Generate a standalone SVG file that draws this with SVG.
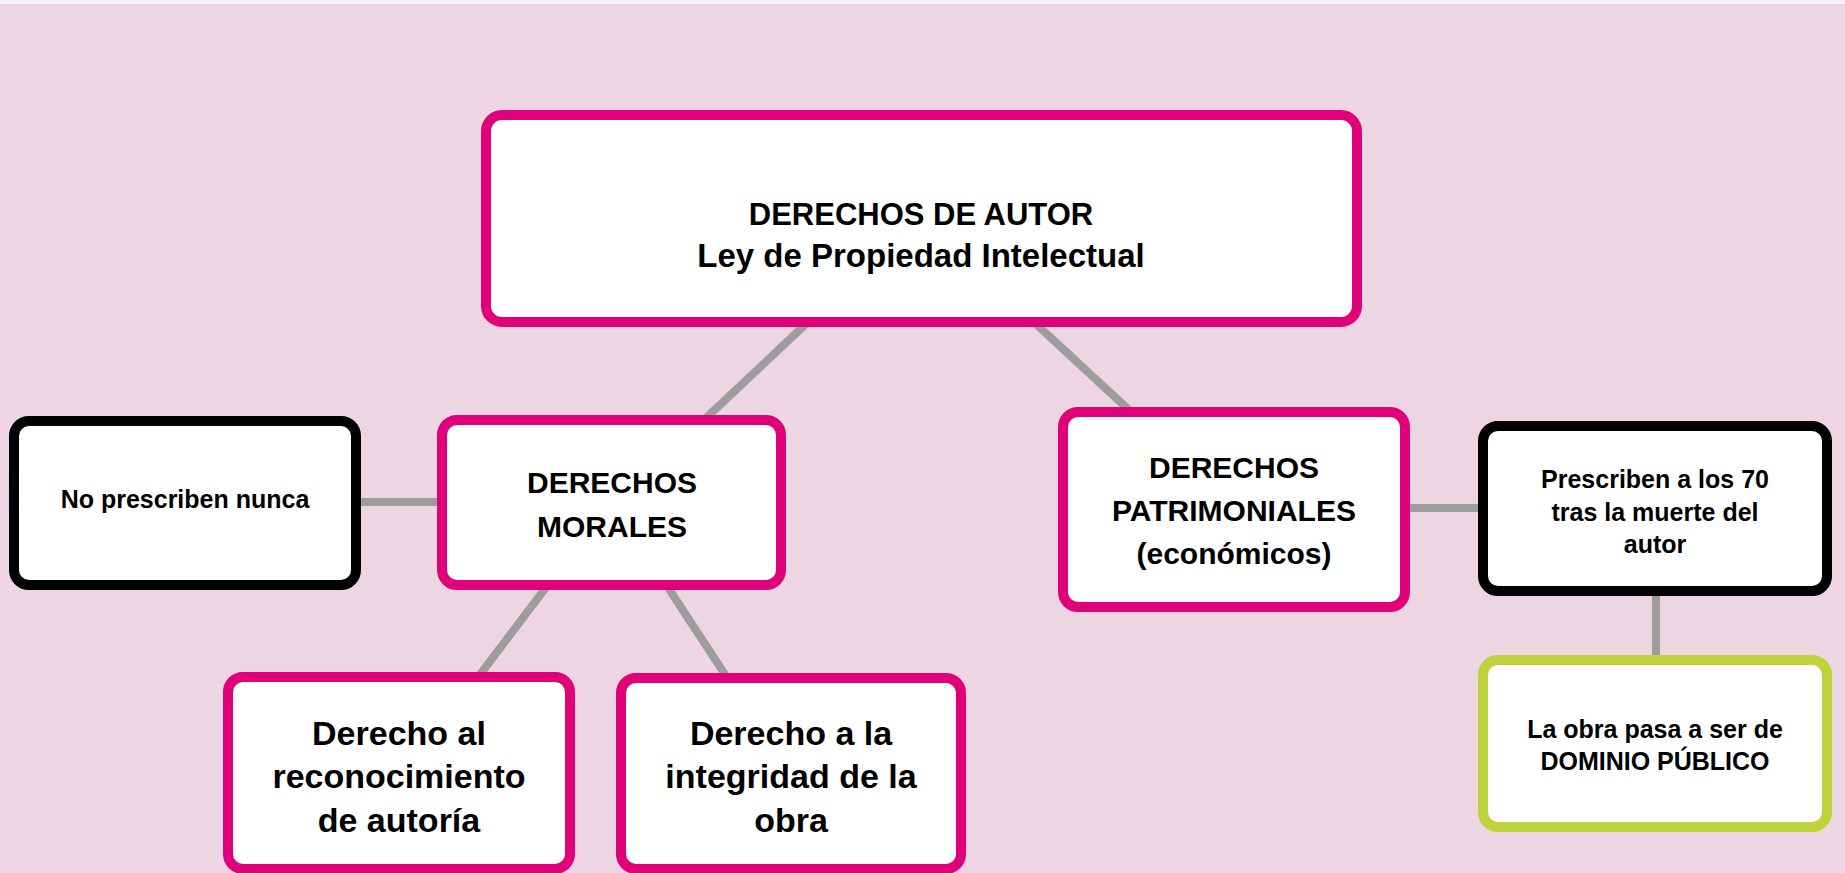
<svg xmlns="http://www.w3.org/2000/svg" width="1845" height="873" viewBox="0 0 1845 873">
<style>
.bg{fill:#EED5E2}
.box{fill:#fff;stroke-width:10}
.pink{stroke:#E0007A}
.black{stroke:#000}
.green{stroke:#BED33B}
.con{stroke:#9D9D9D;stroke-width:8;fill:none}
text{font-family:"Liberation Sans",Arial,sans-serif;font-weight:bold;fill:#000;text-anchor:middle}
.t1{font-size:31px}
.t1b{font-size:33px}
.t2{font-size:30px}
.t4{font-size:34px}
.t3{font-size:25px}
</style>
<rect class="bg" x="0" y="0" width="1845" height="873"/>
<rect x="0" y="0" width="1845" height="4" fill="#F7F3F5"/>
<g id="connectors">
<line class="con" x1="806" y1="324" x2="706" y2="418"/>
<line class="con" x1="1036" y1="324" x2="1129" y2="410"/>
<line class="con" x1="358" y1="502" x2="440" y2="502"/>
<line class="con" x1="1406" y1="508" x2="1482" y2="508"/>
<line class="con" x1="1656" y1="592" x2="1656" y2="658"/>
<line class="con" x1="547" y1="586" x2="479" y2="676"/>
<line class="con" x1="667" y1="586" x2="726" y2="676"/>
</g>
<g id="derechos-autor">
<rect class="box pink" x="486" y="115" width="871" height="207" rx="16"/>
<text class="t1" x="921" y="225">DERECHOS DE AUTOR</text>
<text class="t1b" x="921" y="267">Ley de Propiedad Intelectual</text>
</g>
<g id="derechos-morales">
<rect class="box pink" x="442" y="420" width="339" height="165" rx="15"/>
<text class="t2" x="612" y="493">DERECHOS</text>
<text class="t2" x="612" y="537">MORALES</text>
</g>
<g id="no-prescriben">
<rect class="box black" x="14" y="421" width="342" height="164" rx="15"/>
<text class="t3" x="185" y="508">No prescriben nunca</text>
</g>
<g id="derechos-patrimoniales">
<rect class="box pink" x="1063" y="412" width="342" height="195" rx="15"/>
<text class="t2" x="1234" y="478">DERECHOS</text>
<text class="t2" x="1234" y="521">PATRIMONIALES</text>
<text class="t2" x="1234" y="564">(económicos)</text>
</g>
<g id="prescriben-70">
<rect class="box black" x="1483" y="426" width="344" height="165" rx="15"/>
<text class="t3" x="1655" y="488">Prescriben a los 70</text>
<text class="t3" x="1655" y="521">tras la muerte del</text>
<text class="t3" x="1655" y="553">autor</text>
</g>
<g id="dominio-publico">
<rect class="box green" x="1483" y="660" width="344" height="167" rx="15"/>
<text class="t3" x="1655" y="738">La obra pasa a ser de</text>
<text class="t3" x="1655" y="770">DOMINIO PÚBLICO</text>
</g>
<g id="reconocimiento-autoria">
<rect class="box pink" x="228" y="677" width="342" height="192" rx="15"/>
<text class="t4" x="399" y="745">Derecho al</text>
<text class="t4" x="399" y="788">reconocimiento</text>
<text class="t4" x="399" y="832">de autoría</text>
</g>
<g id="integridad-obra">
<rect class="box pink" x="621" y="678" width="340" height="191" rx="15"/>
<text class="t4" x="791" y="745">Derecho a la</text>
<text class="t4" x="791" y="788">integridad de la</text>
<text class="t4" x="791" y="832">obra</text>
</g>
</svg>
